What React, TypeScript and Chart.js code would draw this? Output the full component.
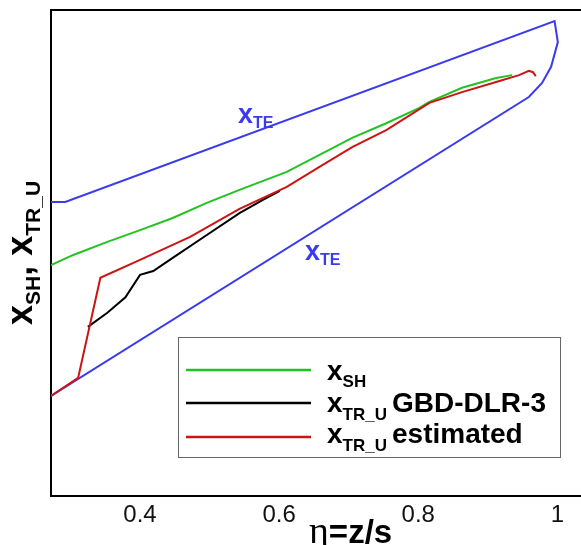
import React, { useEffect, useRef } from 'react';
import { Chart, registerables } from 'chart.js';
Chart.register(...registerables);

// x-axis (eta = z/s) tick labels
const etaTicks = [0.4, 0.6, 0.8, 1];

// x_TE outline (closed contour: upper edge, tip, lower edge)
const teEta = [0.272, 0.2925, 0.996, 1.0007, 0.991, 0.978, 0.959, 0.272];
const teX = [0.605, 0.605, 0.977, 0.934, 0.883, 0.85, 0.821, 0.206];

// x_SH
const shEta = [0.272, 0.304, 0.353, 0.4, 0.447, 0.496, 0.543, 0.611, 0.658, 0.705, 0.754, 0.801, 0.816, 0.863, 0.912, 0.935];
const shX = [0.475, 0.496, 0.523, 0.547, 0.572, 0.603, 0.63, 0.667, 0.702, 0.737, 0.767, 0.798, 0.811, 0.84, 0.86, 0.866];

// x_TR_U GBD-DLR-3
const gbdEta = [0.325, 0.353, 0.379, 0.4, 0.419, 0.447, 0.496, 0.543, 0.576, 0.601];
const gbdX = [0.348, 0.377, 0.409, 0.455, 0.463, 0.49, 0.537, 0.582, 0.609, 0.628];

// x_TR_U estimated
const estEta = [0.272, 0.311, 0.343, 0.4, 0.472, 0.543, 0.611, 0.658, 0.705, 0.754, 0.816, 0.863, 0.912, 0.945, 0.959, 0.965, 0.969];
const estX = [0.206, 0.243, 0.449, 0.486, 0.533, 0.591, 0.636, 0.677, 0.718, 0.753, 0.809, 0.831, 0.852, 0.866, 0.875, 0.872, 0.864];

const BLUE = '#3a3aee';
const GREEN = '#22c322';
const RED = '#cc1414';
const BLACK = '#000000';
const SANS = '"Liberation Sans", Arial, sans-serif';

const pts = (xs: number[], ys: number[]) => xs.map((x, i) => ({ x, y: ys[i] }));

type Part = { t: string; font: string; dy?: number };
const drawRich = (ctx: CanvasRenderingContext2D, x: number, y: number, parts: Part[]) => {
  let cx = x;
  for (const p of parts) {
    ctx.font = p.font;
    ctx.fillText(p.t, cx, y + (p.dy || 0));
    cx += ctx.measureText(p.t).width;
  }
};

const decorPlugin = {
  id: 'decor',
  afterDraw(chart: any) {
    const ctx: CanvasRenderingContext2D = chart.ctx;
    const a = chart.chartArea;
    ctx.save();
    // top frame line
    ctx.strokeStyle = '#000';
    ctx.lineWidth = 2;
    ctx.beginPath();
    ctx.moveTo(a.left - 1, a.top);
    ctx.lineTo(a.right, a.top);
    ctx.stroke();

    ctx.textAlign = 'left';
    ctx.textBaseline = 'alphabetic';

    // x_TE labels
    ctx.fillStyle = BLUE;
    drawRich(ctx, 238, 123, [
      { t: 'x', font: `bold 27px ${SANS}` },
      { t: 'TE', font: `bold 16px ${SANS}`, dy: 5 },
    ]);
    drawRich(ctx, 305, 260, [
      { t: 'x', font: `bold 27px ${SANS}` },
      { t: 'TE', font: `bold 16px ${SANS}`, dy: 5 },
    ]);

    // legend box
    ctx.fillStyle = '#fff';
    ctx.fillRect(178, 337, 382, 120);
    ctx.strokeStyle = '#666';
    ctx.lineWidth = 1;
    ctx.strokeRect(178.5, 337.5, 382, 120);

    const rows = [
      { color: GREEN, y: 370 },
      { color: BLACK, y: 403 },
      { color: RED, y: 437 },
    ];
    rows.forEach((r) => {
      ctx.strokeStyle = r.color;
      ctx.lineWidth = 2.5;
      ctx.beginPath();
      ctx.moveTo(186, r.y);
      ctx.lineTo(311, r.y);
      ctx.stroke();
    });
    ctx.fillStyle = '#000';
    const main = `bold 28px ${SANS}`;
    const sub = `bold 17px ${SANS}`;
    drawRich(ctx, 327, 380, [{ t: 'x', font: main }, { t: 'SH', font: sub, dy: 7 }]);
    drawRich(ctx, 327, 412, [{ t: 'x', font: main }, { t: 'TR_U', font: sub, dy: 8 }]);
    ctx.font = main;
    ctx.fillText('GBD-DLR-3', 392, 412);
    drawRich(ctx, 327, 443, [{ t: 'x', font: main }, { t: 'TR_U', font: sub, dy: 8 }]);
    ctx.font = main;
    ctx.fillText('estimated', 392, 443);

    // y axis title (rotated)
    ctx.save();
    ctx.translate(32, 325);
    ctx.rotate(-Math.PI / 2);
    drawRich(ctx, 0, 0, [
      { t: 'x', font: `bold 36px ${SANS}` },
      { t: 'SH', font: `bold 21px ${SANS}`, dy: 8 },
      { t: ', ', font: `bold 36px ${SANS}` },
      { t: 'x', font: `bold 36px ${SANS}` },
      { t: 'TR_U', font: `bold 21px ${SANS}`, dy: 8 },
    ]);
    ctx.restore();

    // x axis title
    drawRich(ctx, 309, 543, [
      { t: 'η', font: `38px "Liberation Serif", "DejaVu Serif", serif` },
      { t: '=z/s', font: `bold 33px ${SANS}` },
    ]);
    ctx.restore();
  },
};

export default function App() {
  const ref = useRef<HTMLCanvasElement | null>(null);
  useEffect(() => {
    if (!ref.current) return;
    const line = (label: string, data: any[], color: string) => ({
      label,
      data,
      borderColor: color,
      backgroundColor: color,
      borderWidth: 2,
      pointRadius: 0,
      tension: 0,
      fill: false,
    });
    const chart = new Chart(ref.current, {
      type: 'line',
      data: {
        datasets: [
          line('x_TR_U estimated', pts(estEta, estX), RED),
          line('x_TR_U GBD-DLR-3', pts(gbdEta, gbdX), BLACK),
          line('x_SH', pts(shEta, shX), GREEN),
          line('x_TE', pts(teEta, teX), BLUE),
        ],
      },
      options: {
        animation: false,
        responsive: true,
        maintainAspectRatio: false,
        events: [],
        layout: { padding: { top: 10, right: 0, left: 0, bottom: 0 } },
        plugins: { legend: { display: false }, tooltip: { enabled: false } },
        scales: {
          x: {
            type: 'linear',
            min: 0.272,
            max: 1.034,
            grid: { display: false, drawTicks: false },
            border: { display: true, color: '#000', width: 2 },
            ticks: {
              font: { family: SANS, size: 24 },
              color: '#111',
              padding: 5,
              maxRotation: 0,
              callback: (v: any) => String(v),
            },
            afterBuildTicks: (s: any) => {
              s.ticks = etaTicks.map((v) => ({ value: v }));
            },
            afterFit: (s: any) => {
              s.height = 49;
            },
          },
          y: {
            type: 'linear',
            min: 0,
            max: 1,
            grid: { display: false, drawTicks: false },
            border: { display: true, color: '#000', width: 2 },
            ticks: { display: false },
            afterFit: (s: any) => {
              s.width = 51;
            },
          },
        },
      },
      plugins: [decorPlugin],
    });
    return () => chart.destroy();
  }, []);
  return (
    <div style={{ position: 'absolute', left: 0, top: 0, width: 581, height: 545, background: '#fff' }}>
      <canvas ref={ref} style={{ display: 'block' }} />
    </div>
  );
}
